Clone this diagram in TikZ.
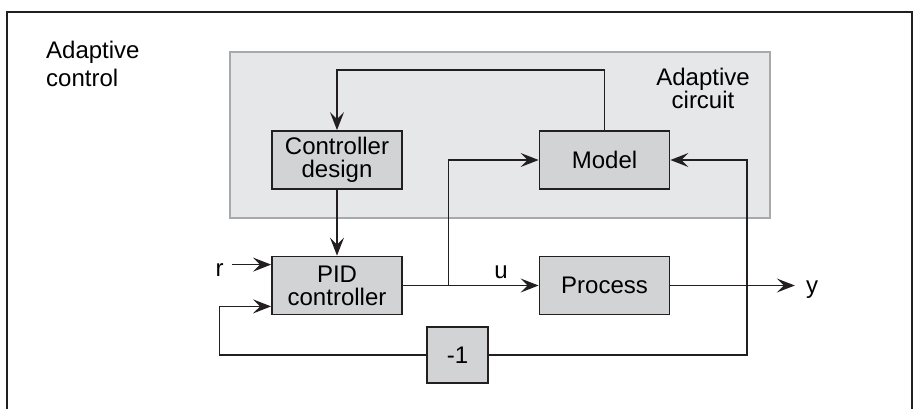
\documentclass[tikz,border=0pt]{standalone}
\usepackage{fontspec}
\setmainfont{Liberation Sans}
\usetikzlibrary{arrows.meta,calc}
\definecolor{ink}{HTML}{231F20}
\definecolor{boxfill}{HTML}{D1D3D4}
\definecolor{panelfill}{HTML}{E6E7E8}
\definecolor{panelline}{HTML}{A7A9AC}

\begin{document}
\begin{tikzpicture}[x=1pt,y=-1pt,
  block/.style={draw=ink, line width=1.8pt, fill=boxfill, minimum width=130pt,
    minimum height=58pt, align=center, inner sep=0pt,
    font=\fontsize{24}{23}\selectfont},
  wire/.style={draw=ink, line width=1.2pt},
  flow/.style={wire, -{Stealth[length=18pt,width=14pt,inset=7pt]}},
  tag/.style={font=\fontsize{24}{28}\selectfont, inner sep=0pt}]

\useasboundingbox (0,0) rectangle (918,408);

% outer frame
\draw[line width=2pt, ink] (7,410) -- (7,12) -- (912,12) -- (912,410);

\node[tag, align=left, anchor=north west] (title) at (46,41) {Adaptive\\control};

% adaptive circuit panel
\node[draw=panelline, fill=panelfill, line width=2pt, minimum width=540pt,
      minimum height=166pt, inner sep=0pt] (panel) at (500,135) {};
\node[tag, align=center, font=\fontsize{24}{23}\selectfont] (ptitle) at (703,88) {Adaptive\\circuit};

% blocks
\node[block] (design) at (337,160) {Controller\\design};
\node[block] (model) at (604.5,160) {Model};
\node[block] (pid) at (337,285.5) {PID\\controller};
\node[block] (process) at (604.5,285.5) {Process};
\node[block, minimum width=61pt, minimum height=56pt] (neg) at (457.5,355) {-1};

% signal labels
\node[tag, anchor=base] (r) at (219.5,276.5) {r};
\node[tag, anchor=base] (u) at (501,278) {u};
\node[tag, anchor=base] (y) at (812,293) {y};

% helper points
\coordinate (loop) at (0,70);
\coordinate (rin) at ([yshift=-9pt]pid.north west);
\coordinate (fbin) at ([yshift=9pt]pid.south west);
\coordinate (fbcorner) at (fbin -| r);
\coordinate (rx) at (747,0);
\coordinate (split) at ($(pid.east)!0.336!(process.west)$);

% connectors
\draw[flow] (model.north) -- (model.north |- loop) -| (design.north);
\draw[flow] (design) -- (pid);
\draw[flow, shorten <=8pt] (r.east |- rin) -- (rin);
\draw[flow] (pid) -- (process);
\draw[flow] (split) |- (model.west);
\draw[flow, shorten >=11pt] (process.east) -- (y.west |- process.east);
\draw[wire] (neg.west) -| (fbcorner);
\draw[flow] (fbcorner) -- (fbin);
\draw[flow] (neg.east) -| (rx |- model.east) -- (model.east);
\end{tikzpicture}
\end{document}
